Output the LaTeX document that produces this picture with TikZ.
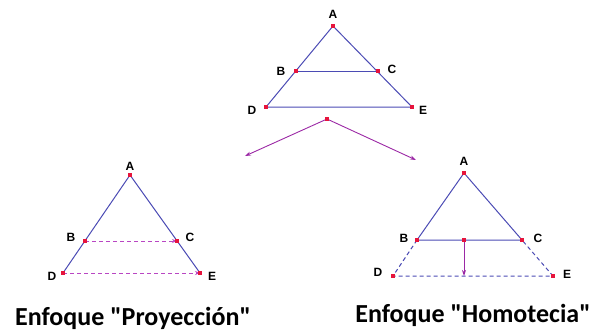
\documentclass[tikz,border=0pt]{standalone}
\usepackage{fontspec}
\setmainfont{Liberation Sans}
\newfontfamily\capfont{Carlito}
\usetikzlibrary{arrows.meta}
\definecolor{edgeblue}{RGB}{75,75,180}
\definecolor{ptred}{RGB}{230,20,60}
\definecolor{arrpurple}{RGB}{155,40,165}
\definecolor{dashpink}{RGB}{185,70,195}
\tikzset{
  edgeline/.style={draw=edgeblue, line width=1pt},
  dedgeline/.style={draw=edgeblue, line width=1pt, dash pattern=on 4pt off 3pt},
  pdash/.style={draw=dashpink, line width=1pt, dash pattern=on 4pt off 3pt, -{Stealth[length=5pt,width=4pt]}},
  parr/.style={draw=arrpurple, line width=0.9pt, -{Stealth[length=6pt,width=4pt]}},
  ptdot/.style={fill=ptred, inner sep=0pt, minimum size=3.2pt, rectangle},
  lbl/.style={font=\bfseries\fontsize{12}{14}\selectfont, inner sep=0pt},
  captext/.style={font=\capfont\bfseries\fontsize{26}{30}\selectfont, inner sep=0pt, anchor=base},
}
\begin{document}
\begin{tikzpicture}[x=1pt,y=-1pt]
\useasboundingbox (0,0) rectangle (595,333);
% top triangle
\coordinate (tA) at (333,26);
\coordinate (tB) at (296,71);
\coordinate (tC) at (378,71);
\coordinate (tD) at (266,107);
\coordinate (tE) at (412,107);
\draw[edgeline] (tA) -- (tD) -- (tE) -- cycle;
\draw[edgeline] (tB) -- (tC);
\foreach \p in {tA,tB,tC,tD,tE} \node[ptdot] at (\p) {};
\node[lbl] (ltA) at (333,14) {A};
\node[lbl] (ltB) at (281,71) {B};
\node[lbl] (ltC) at (392,69) {C};
\node[lbl] (ltD) at (252,110) {D};
\node[lbl] (ltE) at (423,110) {E};
% split arrows
\coordinate (sp) at (327,119);
\coordinate (sL) at (245,156);
\coordinate (sR) at (416,160);
\draw[parr] (sp) -- (sL);
\draw[parr] (sp) -- (sR);
\node[ptdot] at (sp) {};
% left triangle
\coordinate (lA) at (130,175);
\coordinate (lB) at (85,241);
\coordinate (lC) at (177,241);
\coordinate (lD) at (63,273);
\coordinate (lE) at (200,273);
\draw[edgeline] (lD) -- (lA) -- (lE);
\draw[pdash] (lB) -- (lC);
\draw[pdash] (lD) -- (lE);
\foreach \p in {lA,lB,lC,lD,lE} \node[ptdot] at (\p) {};
\node[lbl] (llA) at (130,166) {A};
\node[lbl] (llB) at (71,237) {B};
\node[lbl] (llC) at (190,237) {C};
\node[lbl] (llD) at (52,276) {D};
\node[lbl] (llE) at (212,276) {E};
% right triangle
\coordinate (rA) at (464,173);
\coordinate (rB) at (417,240);
\coordinate (rC) at (522,240);
\coordinate (rD) at (393,276);
\coordinate (rE) at (553,276);
\coordinate (rM) at (464,240);
\coordinate (rN) at (464,276);
\draw[edgeline] (rB) -- (rA) -- (rC) -- cycle;
\draw[dedgeline] (rB) -- (rD) -- (rE) -- (rC);
\draw[parr] (rM) -- (rN);
\foreach \p in {rA,rB,rC,rD,rE,rM} \node[ptdot] at (\p) {};
\node[lbl] (lrA) at (464,161) {A};
\node[lbl] (lrB) at (404,238) {B};
\node[lbl] (lrC) at (538,238) {C};
\node[lbl] (lrD) at (378,272) {D};
\node[lbl] (lrE) at (567,274) {E};
% captions
\node[captext] (capL) at (133,325) {Enfoque "Proyección"};
\node[captext] (capR) at (473,322) {Enfoque "Homotecia"};
\end{tikzpicture}
\end{document}
